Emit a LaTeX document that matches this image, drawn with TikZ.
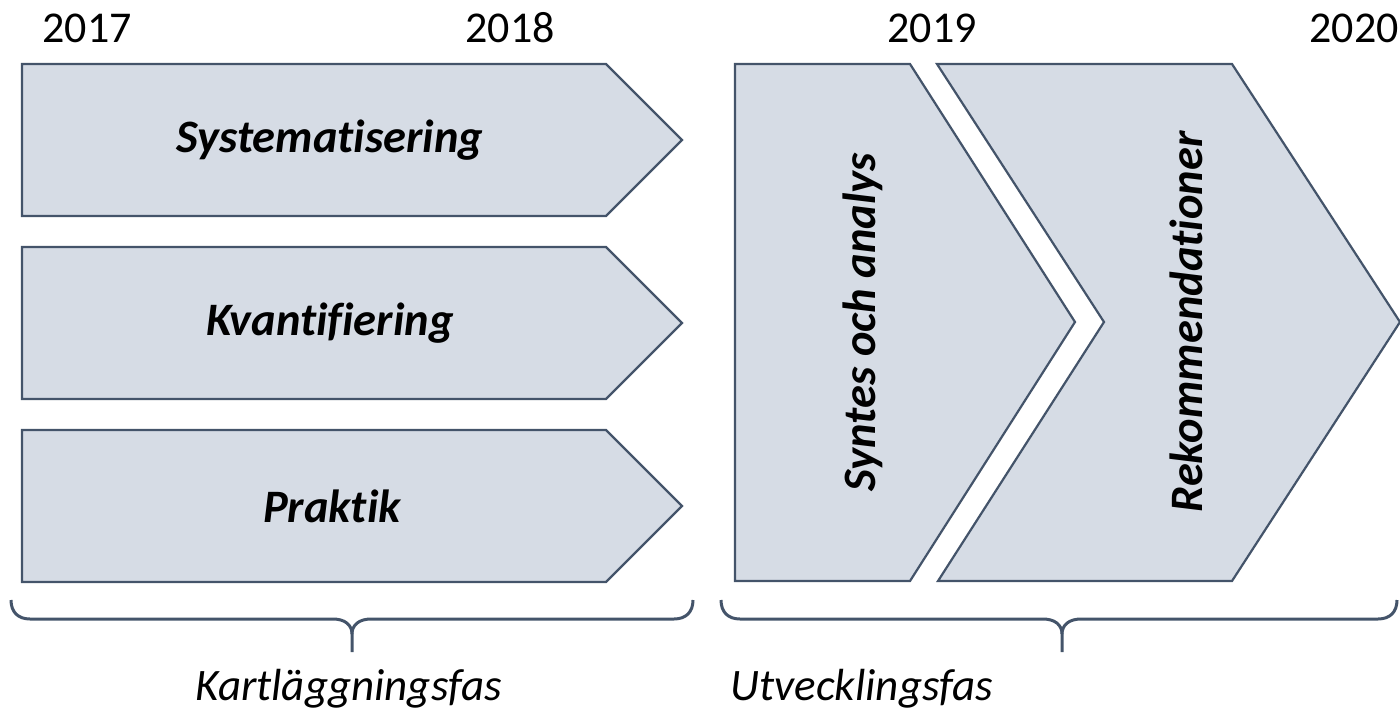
\documentclass[tikz,border=0pt]{standalone}
\usepackage{fontspec}
\setmainfont{Carlito}[Ligatures=NoCommon]
\definecolor{boxfill}{HTML}{D6DCE5}
\definecolor{boxline}{HTML}{44546A}
\begin{document}
\begin{tikzpicture}[x=1pt,y=-1pt,
  shapebox/.style={fill=boxfill,draw=boxline,line width=2.2pt,line join=miter},
  bracestyle/.style={draw=boxline,line width=3pt,line cap=butt},
  year/.style={font=\fontsize{44}{50}\selectfont,anchor=base},
  biglabel/.style={font=\fontsize{46.5}{52}\selectfont\bfseries\itshape},
  phase/.style={font=\fontsize{45}{50}\selectfont\itshape,anchor=base}]
\useasboundingbox (0,0) rectangle (1400,717);
% left pentagons
\draw[shapebox] (22,64) -- (606,64) -- (682,140) -- (606,216) -- (22,216) -- cycle;
\draw[shapebox] (22,247) -- (606,247) -- (682,323) -- (606,399) -- (22,399) -- cycle;
\draw[shapebox] (22,430) -- (606,430) -- (682,506) -- (606,582) -- (22,582) -- cycle;
% chevrons
\draw[shapebox] (735,64) -- (910,64) -- (1075,322) -- (910,581) -- (735,581) -- cycle;
\draw[shapebox] (937,64) -- (1232,64) -- (1400,322) -- (1232,581) -- (938,581) -- (1104,322) -- cycle;
% labels
\node[biglabel] (sys) at (330,140) {Systematisering};
\node[biglabel] (kva) at (330,323) {Kvantifiering};
\node[biglabel] (pra) at (332,506) {Praktik};
\node[biglabel,rotate=90] (syn) at (863,322) {Syntes och analys};
\node[biglabel,rotate=90] (rek) at (1186,322) {Rekommendationer};
% years
\node[year] (y17) at (87,43) {2017};
\node[year] (y18) at (510,43) {2018};
\node[year] (y19) at (932,43) {2019};
\node[year] (y20) at (1354,43) {2020};
% braces
\draw[bracestyle] (11,600) .. controls (11,612) and (18,619) .. (30,619) -- (333,619)
  .. controls (345,619) and (352,625) .. (352,634) -- (352,652);
\draw[bracestyle] (352,634) .. controls (352,625) and (359,619) .. (371,619) -- (674,619)
  .. controls (686,619) and (693,612) .. (693,600);
\draw[bracestyle] (721,600) .. controls (721,612) and (728,619) .. (740,619) -- (1043,619)
  .. controls (1055,619) and (1062,625) .. (1062,634) -- (1062,652);
\draw[bracestyle] (1062,634) .. controls (1062,625) and (1069,619) .. (1081,619) -- (1378,619)
  .. controls (1390,619) and (1397,612) .. (1397,600);
% phase labels
\node[phase] (kart) at (349,700) {Kartläggningsfas};
\node[phase] (utv) at (862,700) {Utvecklingsfas};
\end{tikzpicture}
\end{document}
